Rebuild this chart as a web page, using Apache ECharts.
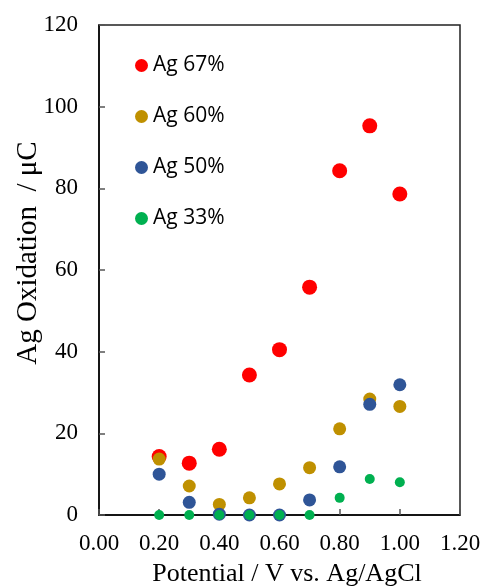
<!DOCTYPE html>
<html>
<head>
<meta charset="utf-8">
<script src="https://cdn.jsdelivr.net/npm/echarts@6/dist/echarts.min.js"></script>
<style>
  html, body { margin: 0; padding: 0; background: #fff; }
  #chartContainer { width: 480px; height: 586px; }
</style>
</head>
<body>
<div id="chartContainer"></div>
<script>
// potential (V vs Ag/AgCl)
const potentials = [0.2, 0.3, 0.4, 0.5, 0.6, 0.7, 0.8, 0.9, 1.0];

// Ag oxidation charge (uC)
const ag67 = [14.3, 12.7, 16.1, 34.3, 40.5, 55.8, 84.3, 95.3, 78.6];
const ag60 = [13.7, 7.1, 2.6, 4.2, 7.6, 11.6, 21.1, 28.4, 26.6];
const ag50 = [10.0, 3.1, 0.2, 0.0, 0.0, 3.7, 11.8, 27.1, 31.9];
const ag33 = [0.0, 0.0, 0.0, 0.0, 0.0, 0.0, 4.2, 8.8, 8.0];

const seriesNames = ['Ag 67%', 'Ag 60%', 'Ag 50%', 'Ag 33%'];
const seriesColors = ['#FF0000', '#BF9000', '#2F5597', '#00B050'];
const seriesSizes = [15, 13, 13, 10];

const serif = '"Liberation Serif", "DejaVu Serif", serif';

function toPoints(values) {
    return potentials.map((x, i) => [x, values[i]]);
}

const myChart = echarts.init(document.getElementById('chartContainer'));

const option = {
    animation: false,
    grid: {
        left: 99, right: 20, top: 25, bottom: 71,
        outerBoundsMode: 'none',
        containLabel: false,
        show: true,
        borderColor: '#222',
        borderWidth: 1.5
    },
    legend: {
        orient: 'vertical',
        left: 130,
        top: 50,
        itemGap: 30,
        itemWidth: 13,
        itemHeight: 13,
        icon: 'circle',
        textStyle: { fontFamily: '"Open Sans", sans-serif', fontSize: 21, color: '#000', lineHeight: 20 },
        data: seriesNames
    },
    xAxis: {
        type: 'value',
        min: 0, max: 1.2, interval: 0.2,
        name: 'Potential / V vs. Ag/AgCl',
        nameLocation: 'middle',
        nameGap: 46,
        nameMoveOverlap: false,
        nameTextStyle: { fontFamily: serif, fontSize: 26, color: '#000', padding: [0, 0, 0, 15] },
        axisLine: { lineStyle: { color: '#000', width: 1.5 } },
        axisTick: { inside: true, length: 6, lineStyle: { color: '#555', width: 1.5 } },
        axisLabel: { fontFamily: serif, fontSize: 23, color: '#000', margin: 17, formatter: v => v.toFixed(2) },
        splitLine: { show: false }
    },
    yAxis: {
        type: 'value',
        min: 0, max: 120, interval: 20,
        name: 'Ag Oxidation  / \u03bcC',
        nameLocation: 'middle',
        nameGap: 56,
        nameMoveOverlap: false,
        nameRotate: 90,
        nameTextStyle: { fontFamily: serif, fontSize: 29, color: '#000', padding: [0, 0, 0, 34] },
        axisLine: { lineStyle: { color: '#000', width: 1.5 } },
        axisTick: { inside: true, length: 6, lineStyle: { color: '#555', width: 1.5 } },
        axisLabel: { fontFamily: serif, fontSize: 23, color: '#000', margin: 21 },
        splitLine: { show: false }
    },
    series: [ag67, ag60, ag50, ag33].map((vals, i) => ({
        name: seriesNames[i],
        type: 'scatter',
        data: toPoints(vals),
        symbolSize: seriesSizes[i],
        itemStyle: { color: seriesColors[i], opacity: 1 },
        z: 2 + i
    }))
};

myChart.setOption(option);
</script>
</body>
</html>
